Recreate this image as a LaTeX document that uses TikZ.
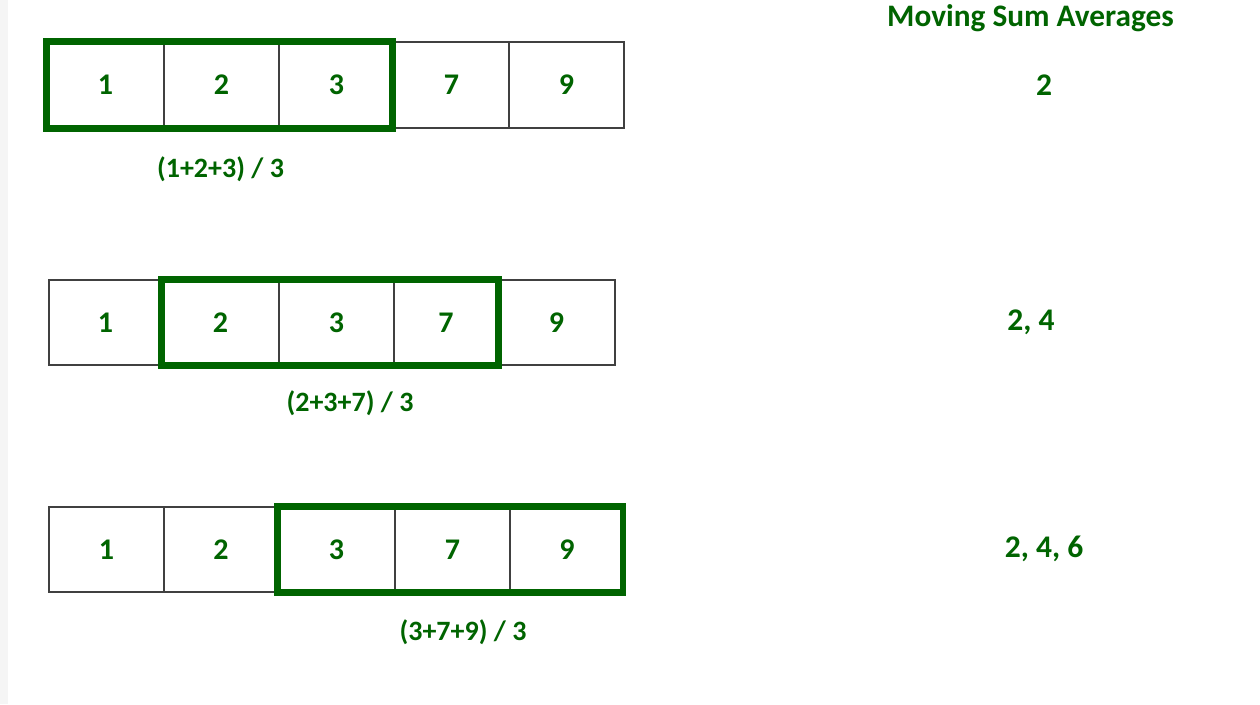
\documentclass[tikz,border=0pt]{standalone}
\usepackage{fontspec}
\setmainfont{Carlito}
\definecolor{gfg}{RGB}{0,100,0}
\definecolor{cellline}{RGB}{64,64,64}
\tikzset{
  cell/.style={draw=cellline, line width=1.4pt, inner sep=0pt, text=gfg,
    font=\fontsize{30}{30}\selectfont\bfseries},
  win/.style={draw=gfg, line width=6.5pt},
  lbl/.style={text=gfg, inner sep=0pt, font=\fontsize{28}{28}\selectfont\bfseries},
  avg/.style={text=gfg, inner sep=0pt, font=\fontsize{31.5}{31.5}\selectfont\bfseries},
  hdr/.style={text=gfg, inner sep=0pt, font=\fontsize{31.3}{31.3}\selectfont\bfseries}
}
\begin{document}
\begin{tikzpicture}[x=1pt,y=-1pt]
\useasboundingbox (0,0) rectangle (1260,704);
\fill[white] (0,0) rectangle (1260,704);
\fill[black!4] (0,0) rectangle (8,704);
% row 1
\node[cell, minimum width=117pt, minimum height=86pt] (a1) at (105.5,85) {1};
\node[cell, minimum width=115pt, minimum height=86pt] (a2) at (221.5,85) {2};
\node[cell, minimum width=115pt, minimum height=86pt] (a3) at (336.5,85) {3};
\node[cell, minimum width=115pt, minimum height=86pt] (a4) at (451.5,85) {7};
\node[cell, minimum width=115pt, minimum height=86pt] (a5) at (566.5,85) {9};
\draw[win] (a1.north west) rectangle ([xshift=-2pt]a3.south east);
% row 2
\node[cell, minimum width=113pt, minimum height=85pt] (b1) at (105.5,322.5) {1};
\node[cell, minimum width=117pt, minimum height=85pt] (b2) at (220.5,322.5) {2};
\node[cell, minimum width=115pt, minimum height=85pt] (b3) at (336.5,322.5) {3};
\node[cell, minimum width=104pt, minimum height=85pt] (b4) at (446,322.5) {7};
\node[cell, minimum width=117pt, minimum height=85pt] (b5) at (556.5,322.5) {9};
\draw[win] (b2.north west) rectangle (b4.south east);
% row 3
\node[cell, minimum width=115pt, minimum height=85pt] (c1) at (106.5,549.5) {1};
\node[cell, minimum width=114pt, minimum height=85pt] (c2) at (221,549.5) {2};
\node[cell, minimum width=117pt, minimum height=85pt] (c3) at (336.5,549.5) {3};
\node[cell, minimum width=115pt, minimum height=85pt] (c4) at (452.5,549.5) {7};
\node[cell, minimum width=114pt, minimum height=85pt] (c5) at (567,549.5) {9};
\draw[win] (c3.north west) rectangle ([xshift=-1.5pt]c5.south east);
% labels
\node[lbl] (l1) at (220.5,169) {(1+2+3) / 3};
\node[lbl] (l2) at (350,403) {(2+3+7) / 3};
\node[lbl] (l3) at (463,632) {(3+7+9) / 3};
% averages
\node[hdr] (h) at (1030.5,18) {Moving Sum Averages};
\node[avg] (s1) at (1044,85) {2};
\node[avg] (s2) at (1031,322) {2, 4};
\node[avg] (s3) at (1044,549) {2, 4, 6};
\end{tikzpicture}
\end{document}
